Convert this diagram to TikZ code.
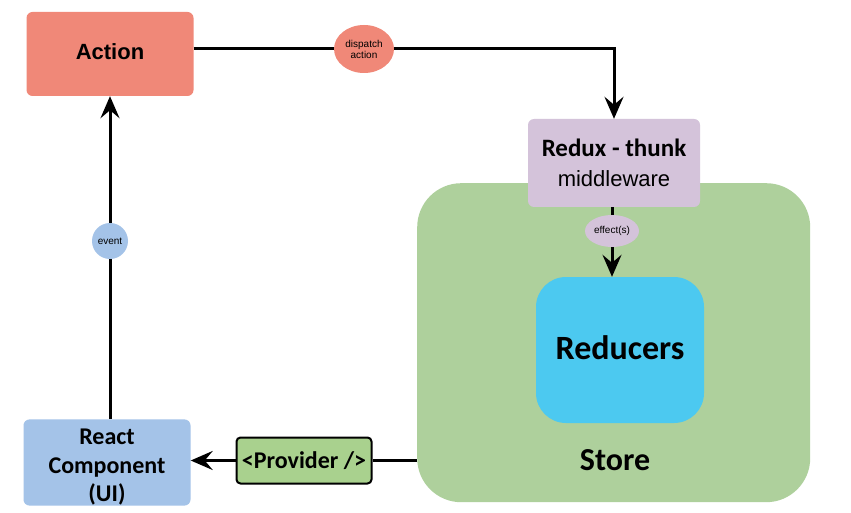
\documentclass[tikz,border=0pt]{standalone}
\usepackage{fontspec}
\setmainfont{Liberation Sans}
\newfontfamily\carl{Carlito}
\usetikzlibrary{arrows.meta,shapes.geometric}
\definecolor{salmon}{HTML}{F08878}
\definecolor{lav}{HTML}{D4C3DA}
\definecolor{storegreen}{HTML}{AED09C}
\definecolor{redcyan}{HTML}{4CC9F0}
\definecolor{uiblue}{HTML}{A4C3E8}
\definecolor{provgreen}{HTML}{A9D18E}
\tikzset{
  conn/.style={line width=3pt,draw=black},
  arr/.style={conn,-{Stealth[length=22pt,width=19pt,inset=8pt]}},
  boxbase/.style={rectangle,inner sep=0pt,draw=none},
  tag/.style={ellipse,inner sep=0pt,font=\fontsize{10}{11}\selectfont,align=center}
}
\begin{document}
\begin{tikzpicture}[x=1pt,y=-1pt]
\useasboundingbox[fill=white] (0,0) rectangle (851,513);
% store
\node[boxbase,fill=storegreen,rounded corners=44pt,minimum width=393pt,minimum height=319pt,anchor=north west] (store) at (417,183) {};
\node[font=\carl\bfseries\fontsize{32}{36}\selectfont] (storelbl) at (615,460) {Store};
% reducers
\node[boxbase,fill=redcyan,rounded corners=30pt,minimum width=168pt,minimum height=146pt] (red) at (620,350) {\raisebox{4pt}{\carl\bfseries\fontsize{34}{38}\selectfont Reducers}};
% redux
\node[boxbase,fill=lav,rounded corners=6pt,minimum width=172pt,minimum height=88pt,align=center,font=\fontsize{22}{30}\selectfont] (redux) at (614,163) {{\carl\bfseries\fontsize{25}{30}\selectfont Redux - thunk}\\{\fontsize{22}{30}\selectfont middleware}};
% action
\node[boxbase,fill=salmon,rounded corners=6pt,minimum width=167pt,minimum height=84pt] (action) at (110,54) {\raisebox{5pt}{\bfseries\fontsize{22}{26}\selectfont Action}};
% react
\node[boxbase,fill=uiblue,rounded corners=6pt,minimum width=167pt,minimum height=81pt,align=center,font=\carl\bfseries\fontsize{24}{28.5}\selectfont] (react) at (107,462.5) {\\[-3pt]React\\Component\\(UI)};
% provider
\node[rectangle,draw=black,line width=2pt,fill=provgreen,rounded corners=4pt,minimum width=135pt,minimum height=46pt,inner sep=0pt,font=\carl\bfseries\fontsize{24}{26}\selectfont] (prov) at (304,460.5) {<Provider />};
% tags
\node[tag,fill=salmon,minimum width=60pt,minimum height=48pt] (disp) at (364,49) {dispatch\\action};
\node[tag,fill=uiblue,minimum width=36pt,minimum height=36pt] (event) at (110,241) {event};
\node[tag,fill=lav,minimum width=54pt,minimum height=32pt] (eff) at (612,231) {effect(s)};
% connectors
\coordinate (bend) at (redux.north |- disp);
\draw[conn] (action.east |- disp) -- (disp.west);
\draw[arr] (disp.east) -- (bend) -- (redux.north);
\draw[conn] (redux.south -| eff) -- (eff.north);
\draw[arr] (eff.south) -- (eff |- red.north);
\draw[conn] (react.north -| event) -- (event.south);
\draw[arr] (event.north) -- (event |- action.south);
\draw[conn] (store.west |- prov) -- (prov.east);
\draw[arr] (prov.west) -- (react.east |- prov);
\end{tikzpicture}
\end{document}
